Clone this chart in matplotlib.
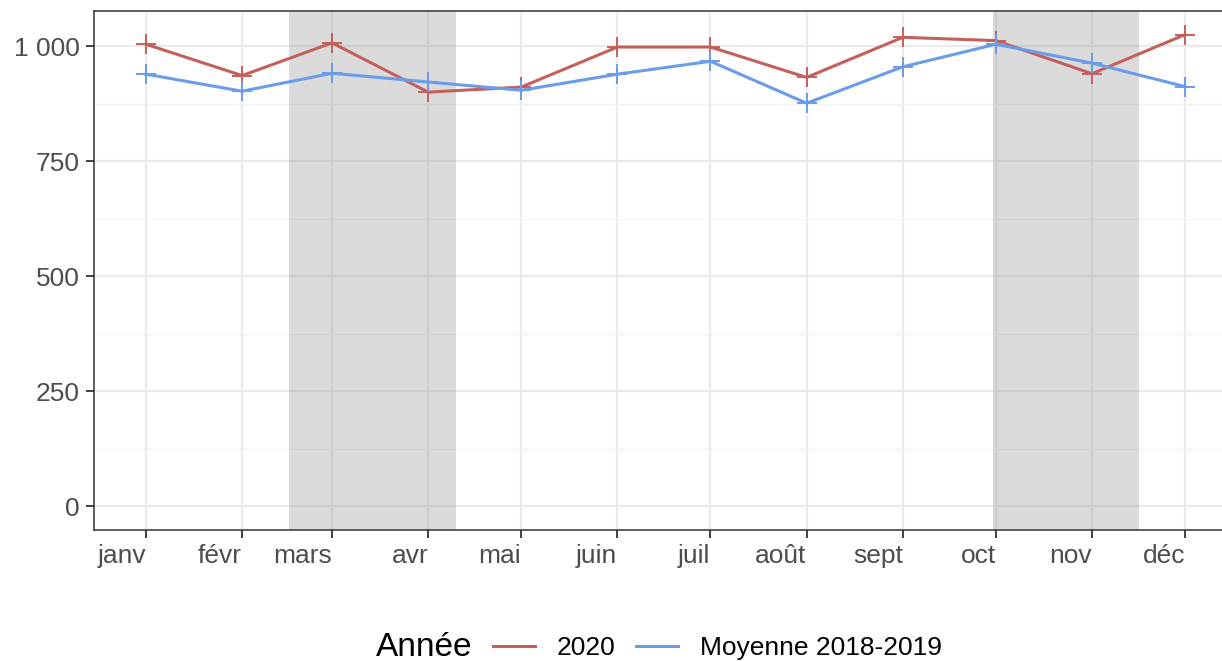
import matplotlib
matplotlib.use("Agg")
import matplotlib.pyplot as plt
import matplotlib.dates as mdates
import numpy as np
import pandas as pd
from matplotlib.lines import Line2D

plt.rcParams['font.family'] = ['Liberation Sans', 'DejaVu Sans']

# Monthly values
months = pd.date_range("2020-01-01", "2020-12-01", freq="MS")
month_labels = ["janv", "févr", "mars", "avr", "mai", "juin",
                "juil", "août", "sept", "oct", "nov", "déc"]
val_2020 = [1004, 936, 1007, 900, 911, 998, 998, 932, 1019, 1012, 940, 1025]
val_moy = [939, 902, 941, 922, 904, 939, 967, 876, 955, 1004, 963, 912]

# Shaded periods
shade_start = [pd.Timestamp("2020-02-16"), pd.Timestamp("2020-09-30")]
shade_end = [pd.Timestamp("2020-04-10"), pd.Timestamp("2020-11-16")]

red = "#C4605C"
blue = "#6A9CEA"
txt_grey = "#4D4D4D"
dark = "#333333"

fig = plt.figure(figsize=(12.22, 6.61), dpi=100)
ax = fig.add_axes([94 / 1222, 131 / 661, 1143 / 1222, 519 / 661])

x = mdates.date2num(months)
span = x[-1] - x[0]
ax.set_xlim(x[0] - 0.05 * span, x[-1] + 0.05 * span)
ymax = max(max(val_2020), max(val_moy))
ax.set_ylim(-0.05 * ymax, ymax * 1.05)

# grid
ax.set_yticks([0, 250, 500, 750, 1000])
ax.set_yticklabels(["0", "250", "500", "750", "1 000"])
ax.set_yticks([125, 375, 625, 875], minor=True)
ax.set_xticks(x)
ax.set_xticklabels(month_labels, ha="right")
ax.grid(True, which="major", color="#EBEBEB", lw=1.6, zorder=0)
ax.grid(True, which="minor", axis="y", color="#F2F2F2", lw=1.0, zorder=0)
ax.set_axisbelow(True)

for s, e in zip(shade_start, shade_end):
    ax.axvspan(mdates.date2num(s), mdates.date2num(e), color="#808080",
               alpha=0.28, lw=0, zorder=1)

ax.plot(x, val_2020, color=red, lw=2.2, marker="+", ms=15, mew=1.4, zorder=3)
ax.plot(x, val_moy, color=blue, lw=2.2, marker="+", ms=15, mew=1.4, zorder=3)

for sp in ax.spines.values():
    sp.set_color(dark)
    sp.set_linewidth(1.1)
ax.tick_params(axis="both", which="major", length=6, width=1.3, color=dark,
               labelsize=19, labelcolor=txt_grey, pad=4)
ax.tick_params(axis="both", which="minor", length=0)

# legend at the bottom, title on the left
fig.text(376 / 1222, 1 - 648 / 661, "Année", fontsize=24, va="center", ha="left")
handles = [Line2D([], [], color=red, lw=2.2), Line2D([], [], color=blue, lw=2.2)]
fig.legend(handles, ["2020", "Moyenne 2018-2019"], loc="center left",
           bbox_to_anchor=(493 / 1222, 1 - 648 / 661), ncol=2, frameon=False,
           fontsize=19, handlelength=1.6, handletextpad=0.8, columnspacing=0.8,
           borderaxespad=0, borderpad=0)

fig.savefig("out.png", dpi=100)
